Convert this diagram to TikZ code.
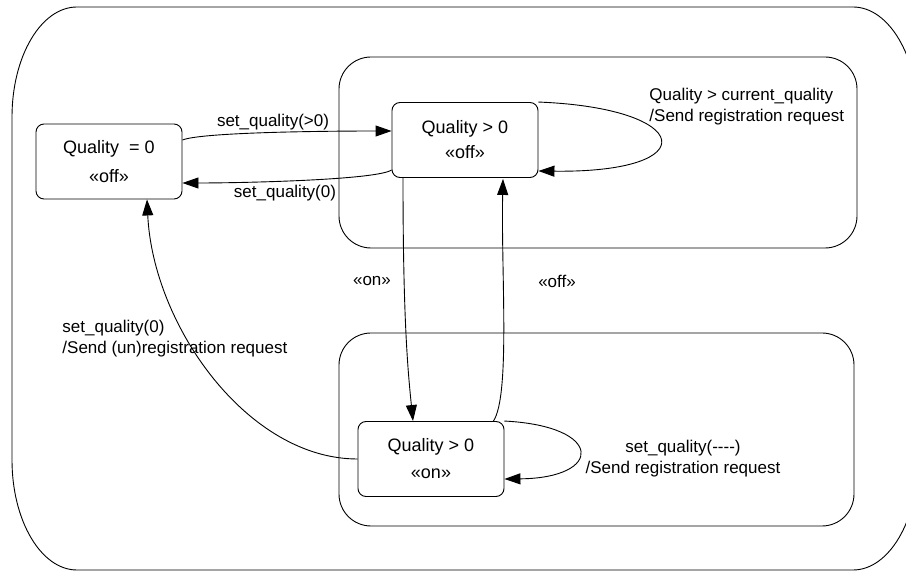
\documentclass[tikz,border=0pt]{standalone}
\usepackage{fontspec}
\setmainfont{Liberation Sans}
\usetikzlibrary{arrows.meta, positioning, calc}

\begin{document}
\begin{tikzpicture}[
    x=1pt, y=1pt,
    line width=0.9pt,
    statebox/.style={draw, rounded corners=8pt, minimum width=146pt, minimum height=75pt, inner sep=0pt, align=center, font=\fontsize{18}{21}\selectfont},
    region/.style={draw, rounded corners=32pt, inner sep=0pt},
    trans/.style={-{Triangle[length=16pt,width=11pt]}},
    lbl/.style={inner sep=0pt, font=\fontsize{17}{21}\selectfont}
]
\useasboundingbox (0,0) rectangle (906,571);
\clip (0,0) rectangle (906,571);

% outer frame
\draw (77,564) -- (853,564) arc[start angle=90, end angle=0, x radius=65, y radius=110]
    -- (918,111) arc[start angle=0, end angle=-90, x radius=65, y radius=110]
    -- (77,1) arc[start angle=270, end angle=180, x radius=65, y radius=110]
    -- (12,454) arc[start angle=180, end angle=90, x radius=65, y radius=110];

% regions
\node[region, minimum width=518pt, minimum height=191pt] (upper) at (598,418.5) {};
\node[region, minimum width=515pt, minimum height=193pt] (lower) at (596.5,141.5) {};

% states
\node[statebox] (s0) at (109,409.5) {Quality\ \ = 0\\[8pt]«off»};
\node[statebox] (s1) at (465,431) {Quality > 0\\[4pt]«off»};
\node[statebox] (s2) at (431,112) {Quality > 0\\[6pt]«on»};

% transitions
\draw[trans] ([yshift=21.5pt]s0.east) .. controls +(20,8) and +(-60,0) .. ([yshift=9pt]s1.west);
\draw[trans] ([yshift=-30pt]s1.west) .. controls +(-15,-10) and +(60,0) .. ([yshift=-21.5pt]s0.east);
\draw[trans] (s1.north east) .. controls +(155,-6) and +(168,-2) .. ([yshift=-31pt]s1.east);
\draw[trans] ([xshift=-62pt]s1.south) .. controls +(0,-143) and +(-5,49) .. ([xshift=-18pt]s2.north);
\draw[trans] ([xshift=-11pt]s2.north east) .. controls +(17,26) and +(-2,-93) .. ([xshift=38pt,yshift=-1pt]s1.south);
\draw[trans] (s2.west) .. controls +(-110,0) and +(6,-126) .. ([xshift=38pt]s0.south);
\draw[trans] (s2.north east) .. controls +(100,-5) and +(99,1) .. ([yshift=-20pt]s2.east);

% Annotations
\node[lbl] (l1) at (273,449) {set\_quality(>0)};
\node[lbl] (l2) at (285,378) {set\_quality(0)};
\node[lbl, anchor=west, align=left] (l3) at (649,464.5) {Quality > current\_quality\\/Send registration request};
\node[lbl] (l4) at (372,290) {«on»};
\node[lbl] (l5) at (557,290) {«off»};
\node[lbl, anchor=west, align=left] (l6) at (62,232.5) {set\_quality(0)\\/Send (un)registration request};
\node[lbl, align=center] (l7) at (683,112) {set\_quality(-{}-{}-{}-)\\/Send registration request};

\end{tikzpicture}
\end{document}
